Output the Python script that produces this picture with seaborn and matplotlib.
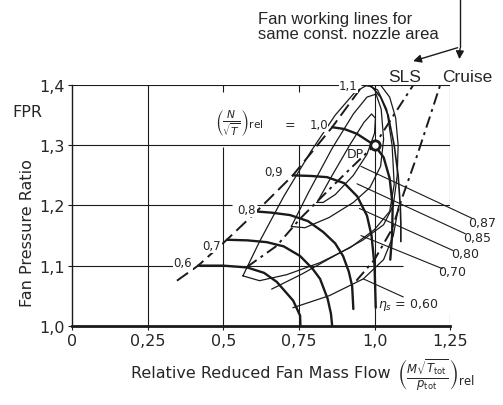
import numpy as np
import pandas as pd
import matplotlib
matplotlib.use("Agg")
import matplotlib.pyplot as plt
import seaborn as sns

# --- axis ticks ---
x_ticks = [0, 0.25, 0.5, 0.75, 1.0, 1.25]
x_tick_labels = ["0", "0,25", "0,5", "0,75", "1,0", "1,25"]
y_ticks = [1.0, 1.1, 1.2, 1.3, 1.4]
y_tick_labels = ["1,0", "1,1", "1,2", "1,3", "1,4"]

# --- partial grid segments ---
h_grid_y = [1.4, 1.4, 1.3, 1.2, 1.2, 1.1, 1.1]
h_grid_x0 = [0.0, 0.955, 0.0, 0.0, 0.61, 0.0, 0.42]
h_grid_x1 = [0.89, 1.25, 1.25, 0.53, 1.25, 0.34, 1.095]
v_grid_x = [0.25, 0.5, 0.5, 0.75, 0.75, 1.0, 1.25, 1.25]
v_grid_y0 = [1.0, 1.0, 1.388, 1.0, 1.388, 1.0, 1.2, 1.0]
v_grid_y1 = [1.4, 1.297, 1.4, 1.3, 1.4, 1.4, 1.4, 1.02]

# --- surge line ---
surge_x = [0.347, 0.417, 0.512, 0.61, 0.73, 0.86, 0.962]
surge_y = [1.075, 1.10, 1.143, 1.19, 1.25, 1.33, 1.40]

# --- corrected speed lines (N/sqrt(T))rel ---
speed_names = ["0,6", "0,7", "0,8", "0,9", "1,0", "1,1"]
speed_06_x = [0.417, 0.50, 0.579, 0.635, 0.677, 0.731, 0.754, 0.755]
speed_06_y = [1.100, 1.100, 1.097, 1.088, 1.073, 1.042, 1.017, 1.000]
speed_07_x = [0.512, 0.58, 0.644, 0.70, 0.754, 0.795, 0.82, 0.845, 0.856, 0.86]
speed_07_y = [1.143, 1.142, 1.139, 1.132, 1.116, 1.095, 1.078, 1.045, 1.02, 1.000]
speed_08_x = [0.61, 0.66, 0.721, 0.78, 0.83, 0.87, 0.896, 0.915, 0.926, 0.93]
speed_08_y = [1.19, 1.188, 1.184, 1.174, 1.156, 1.137, 1.116, 1.09, 1.066, 1.028]
speed_09_x = [0.73, 0.79, 0.843, 0.90, 0.943, 0.975, 0.99, 1.0, 1.004]
speed_09_y = [1.25, 1.249, 1.247, 1.237, 1.215, 1.183, 1.15, 1.10, 1.03]
speed_10_x = [0.86, 0.90, 0.942, 1.0, 1.03, 1.05, 1.06, 1.058, 1.052]
speed_10_y = [1.33, 1.327, 1.319, 1.30, 1.28, 1.245, 1.20, 1.15, 1.11]
speed_11_x = [0.962, 0.99, 1.02, 1.045, 1.065, 1.078, 1.085, 1.087, 1.087]
speed_11_y = [1.40, 1.398, 1.38, 1.35, 1.30, 1.25, 1.20, 1.17, 1.14]
speed_label_x = [0.367, 0.463, 0.578, 0.666, 0.815, 0.914]
speed_label_y = [1.106, 1.133, 1.193, 1.256, 1.334, 1.399]

# --- isentropic efficiency contours ---
eff_087_x = [0.81, 0.86, 0.92, 0.965, 0.99, 1.003, 1.0, 0.975, 0.93, 0.87, 0.83, 0.81]
eff_087_y = [1.205, 1.25, 1.302, 1.338, 1.352, 1.345, 1.32, 1.285, 1.25, 1.218, 1.205, 1.205]
eff_085_x = [0.725, 0.78, 0.86, 0.93, 0.975, 1.005, 1.022, 1.03, 1.02, 0.985, 0.93, 0.85, 0.77, 0.725]
eff_085_y = [1.165, 1.22, 1.295, 1.352, 1.38, 1.385, 1.36, 1.31, 1.265, 1.23, 1.205, 1.18, 1.163, 1.165]
eff_080_x = [0.565, 0.62, 0.70, 0.79, 0.87, 0.935, 0.975, 1.01, 1.04, 1.058, 1.065, 1.05, 1.0, 0.92,
             0.82, 0.71, 0.62, 0.565]
eff_080_y = [1.083, 1.14, 1.215, 1.29, 1.35, 1.388, 1.40, 1.392, 1.36, 1.30, 1.235, 1.19, 1.16, 1.13,
             1.105, 1.085, 1.075, 1.083]
eff_070_x = [0.66, 0.76, 0.87, 0.96, 1.03, 1.062, 1.075, 1.078, 1.07, 1.05, 1.02, 0.985]
eff_070_y = [1.061, 1.086, 1.117, 1.142, 1.168, 1.20, 1.25, 1.30, 1.345, 1.38, 1.40, 1.405]
eff_060_x = [0.73, 0.85, 0.963, 1.03, 1.062, 1.08]
eff_060_y = [1.03, 1.05, 1.078, 1.11, 1.15, 1.20]

# --- efficiency labels and leader lines ---
eff_names = ["0,87", "0,85", "0,80", "0,70"]
eff_label_x = [1.355, 1.339, 1.30, 1.256]
eff_label_y = [1.171, 1.146, 1.12, 1.091]
leader_x0 = [1.325, 1.30, 1.26, 1.224, 1.095]
leader_y0 = [1.178, 1.153, 1.125, 1.095, 1.048]
leader_x1 = [0.955, 0.942, 0.95, 0.955, 0.963]
leader_y1 = [1.265, 1.236, 1.195, 1.15, 1.078]

# --- working lines ---
sls_x = [0.579, 0.677, 0.754, 0.863, 0.93, 1.0, 1.062, 1.128]
sls_y = [1.098, 1.133, 1.178, 1.233, 1.266, 1.30, 1.349, 1.40]
cruise_x = [0.94, 1.0, 1.058, 1.09, 1.14, 1.184, 1.217]
cruise_y = [1.075, 1.11, 1.161, 1.211, 1.282, 1.349, 1.40]

dp_x, dp_y = 1.0, 1.30

sns.set_theme(style="white")
plt.rcParams["font.family"] = ["DejaVu Sans"]
plt.rcParams["mathtext.fontset"] = "dejavusans"

fig = plt.figure(figsize=(5.03, 4.06), dpi=100)
ax = fig.add_axes([0.143, 0.195, 0.752, 0.593])
ax.set_xlim(0, 1.25)
ax.set_ylim(1.0, 1.4)
for s in ["top", "right"]:
    ax.spines[s].set_visible(False)
ax.spines["left"].set_color("k")
ax.spines["left"].set_linewidth(1.0)
ax.spines["bottom"].set_color("k")
ax.spines["bottom"].set_linewidth(2.0)

# grid segments
ax.hlines(h_grid_y, h_grid_x0, h_grid_x1, color="k", lw=0.8)
ax.vlines(v_grid_x, v_grid_y0, v_grid_y1, color="k", lw=0.8)


def draw(xs, ys, **kw):
    sns.lineplot(x=xs, y=ys, sort=False, estimator=None, ax=ax, color="k", **kw)


# efficiency islands (thin)
for ex, ey in [(eff_087_x, eff_087_y), (eff_085_x, eff_085_y), (eff_080_x, eff_080_y),
               (eff_070_x, eff_070_y), (eff_060_x, eff_060_y)]:
    draw(ex, ey, lw=0.9)

# speed lines (thick)
for sx, sy in [(speed_06_x, speed_06_y), (speed_07_x, speed_07_y), (speed_08_x, speed_08_y),
               (speed_09_x, speed_09_y), (speed_10_x, speed_10_y)]:
    draw(sx, sy, lw=1.7)
draw(speed_11_x, speed_11_y, lw=1.2)

# surge line (long dashes)
draw(surge_x, surge_y, lw=1.4, linestyle=(0, (7, 3)))

# working lines (dash-dot)
draw(sls_x, sls_y, lw=1.4, linestyle=(0, (6, 2.5, 1.5, 2.5)))
draw(cruise_x, cruise_y, lw=1.4, linestyle=(0, (6, 2.5, 1.5, 2.5)))

# leader lines
for x0, y0, x1, y1 in zip(leader_x0, leader_y0, leader_x1, leader_y1):
    ax.plot([x0, x1], [y0, y1], color="k", lw=0.8, clip_on=False)

# design point
ax.scatter([dp_x], [dp_y], s=45, facecolor="white", edgecolor="k", linewidth=2.0, zorder=5)
ax.text(0.936, 1.286, "DP", fontsize=9, ha="center", va="center")

# speed labels
for name, lx, ly in zip(speed_names, speed_label_x, speed_label_y):
    ax.text(lx, ly, name, fontsize=8.5, ha="center", va="center",
            bbox=dict(facecolor="white", edgecolor="none", pad=0.3))
ax.text(0.555, 1.338, r"$\left(\frac{N}{\sqrt{T}}\right)_{\mathrm{rel}}$", fontsize=11,
        ha="center", va="center")
ax.text(0.72, 1.334, "=", fontsize=9, ha="center", va="center")

# efficiency labels
for name, lx, ly in zip(eff_names, eff_label_x, eff_label_y):
    ax.text(lx, ly, name, fontsize=9, ha="center", va="center", clip_on=False)
ax.text(1.111, 1.037, r"$\eta_s$ = 0,60", fontsize=9, ha="center", va="center")

# ticks
ax.set_xticks(x_ticks)
ax.set_xticklabels(x_tick_labels)
ax.set_yticks(y_ticks)
ax.set_yticklabels(y_tick_labels)
ax.tick_params(axis="both", direction="out", length=3, width=0.8, color="k",
               labelsize=11.5, pad=2, bottom=True, left=True)
ax.set_xlabel("")
ax.set_ylabel("")

# axis titles
fig.text(0.054, 0.722, "FPR", fontsize=11.5, ha="center", va="center")
fig.text(0.054, 0.426, "Fan Pressure Ratio", fontsize=11.5, rotation=90, ha="center", va="center")
fig.text(0.26, 0.08, "Relative Reduced Fan Mass Flow", fontsize=11.5, ha="left", va="center")
fig.text(0.79, 0.075, r"$\left(\frac{M\sqrt{T_{\mathrm{tot}}}}{p_{\mathrm{tot}}}\right)_{\mathrm{rel}}$",
         fontsize=12, ha="left", va="center")

# working line annotation
fig.text(0.512, 0.933, "Fan working lines for\nsame const. nozzle area", fontsize=12,
         family="Liberation Sans", ha="left", va="center", linespacing=1.0)
fig.text(0.805, 0.81, "SLS", fontsize=12.5, family="Liberation Sans", ha="center", va="center")
fig.text(0.928, 0.81, "Cruise", fontsize=12.5, family="Liberation Sans", ha="center", va="center")
fig.add_artist(plt.Line2D([0.915, 0.915], [1.0, 0.882], color="k", lw=1.0))
ax.annotate("", xy=(0.913, 0.845), xytext=(0.915, 0.885), xycoords="figure fraction",
            textcoords="figure fraction", arrowprops=dict(arrowstyle="-|>", color="k", lw=1.0))
ax.annotate("", xy=(0.816, 0.845), xytext=(0.915, 0.882), xycoords="figure fraction",
            textcoords="figure fraction", arrowprops=dict(arrowstyle="-|>", color="k", lw=1.0))

fig.savefig("out.png", dpi=100)
